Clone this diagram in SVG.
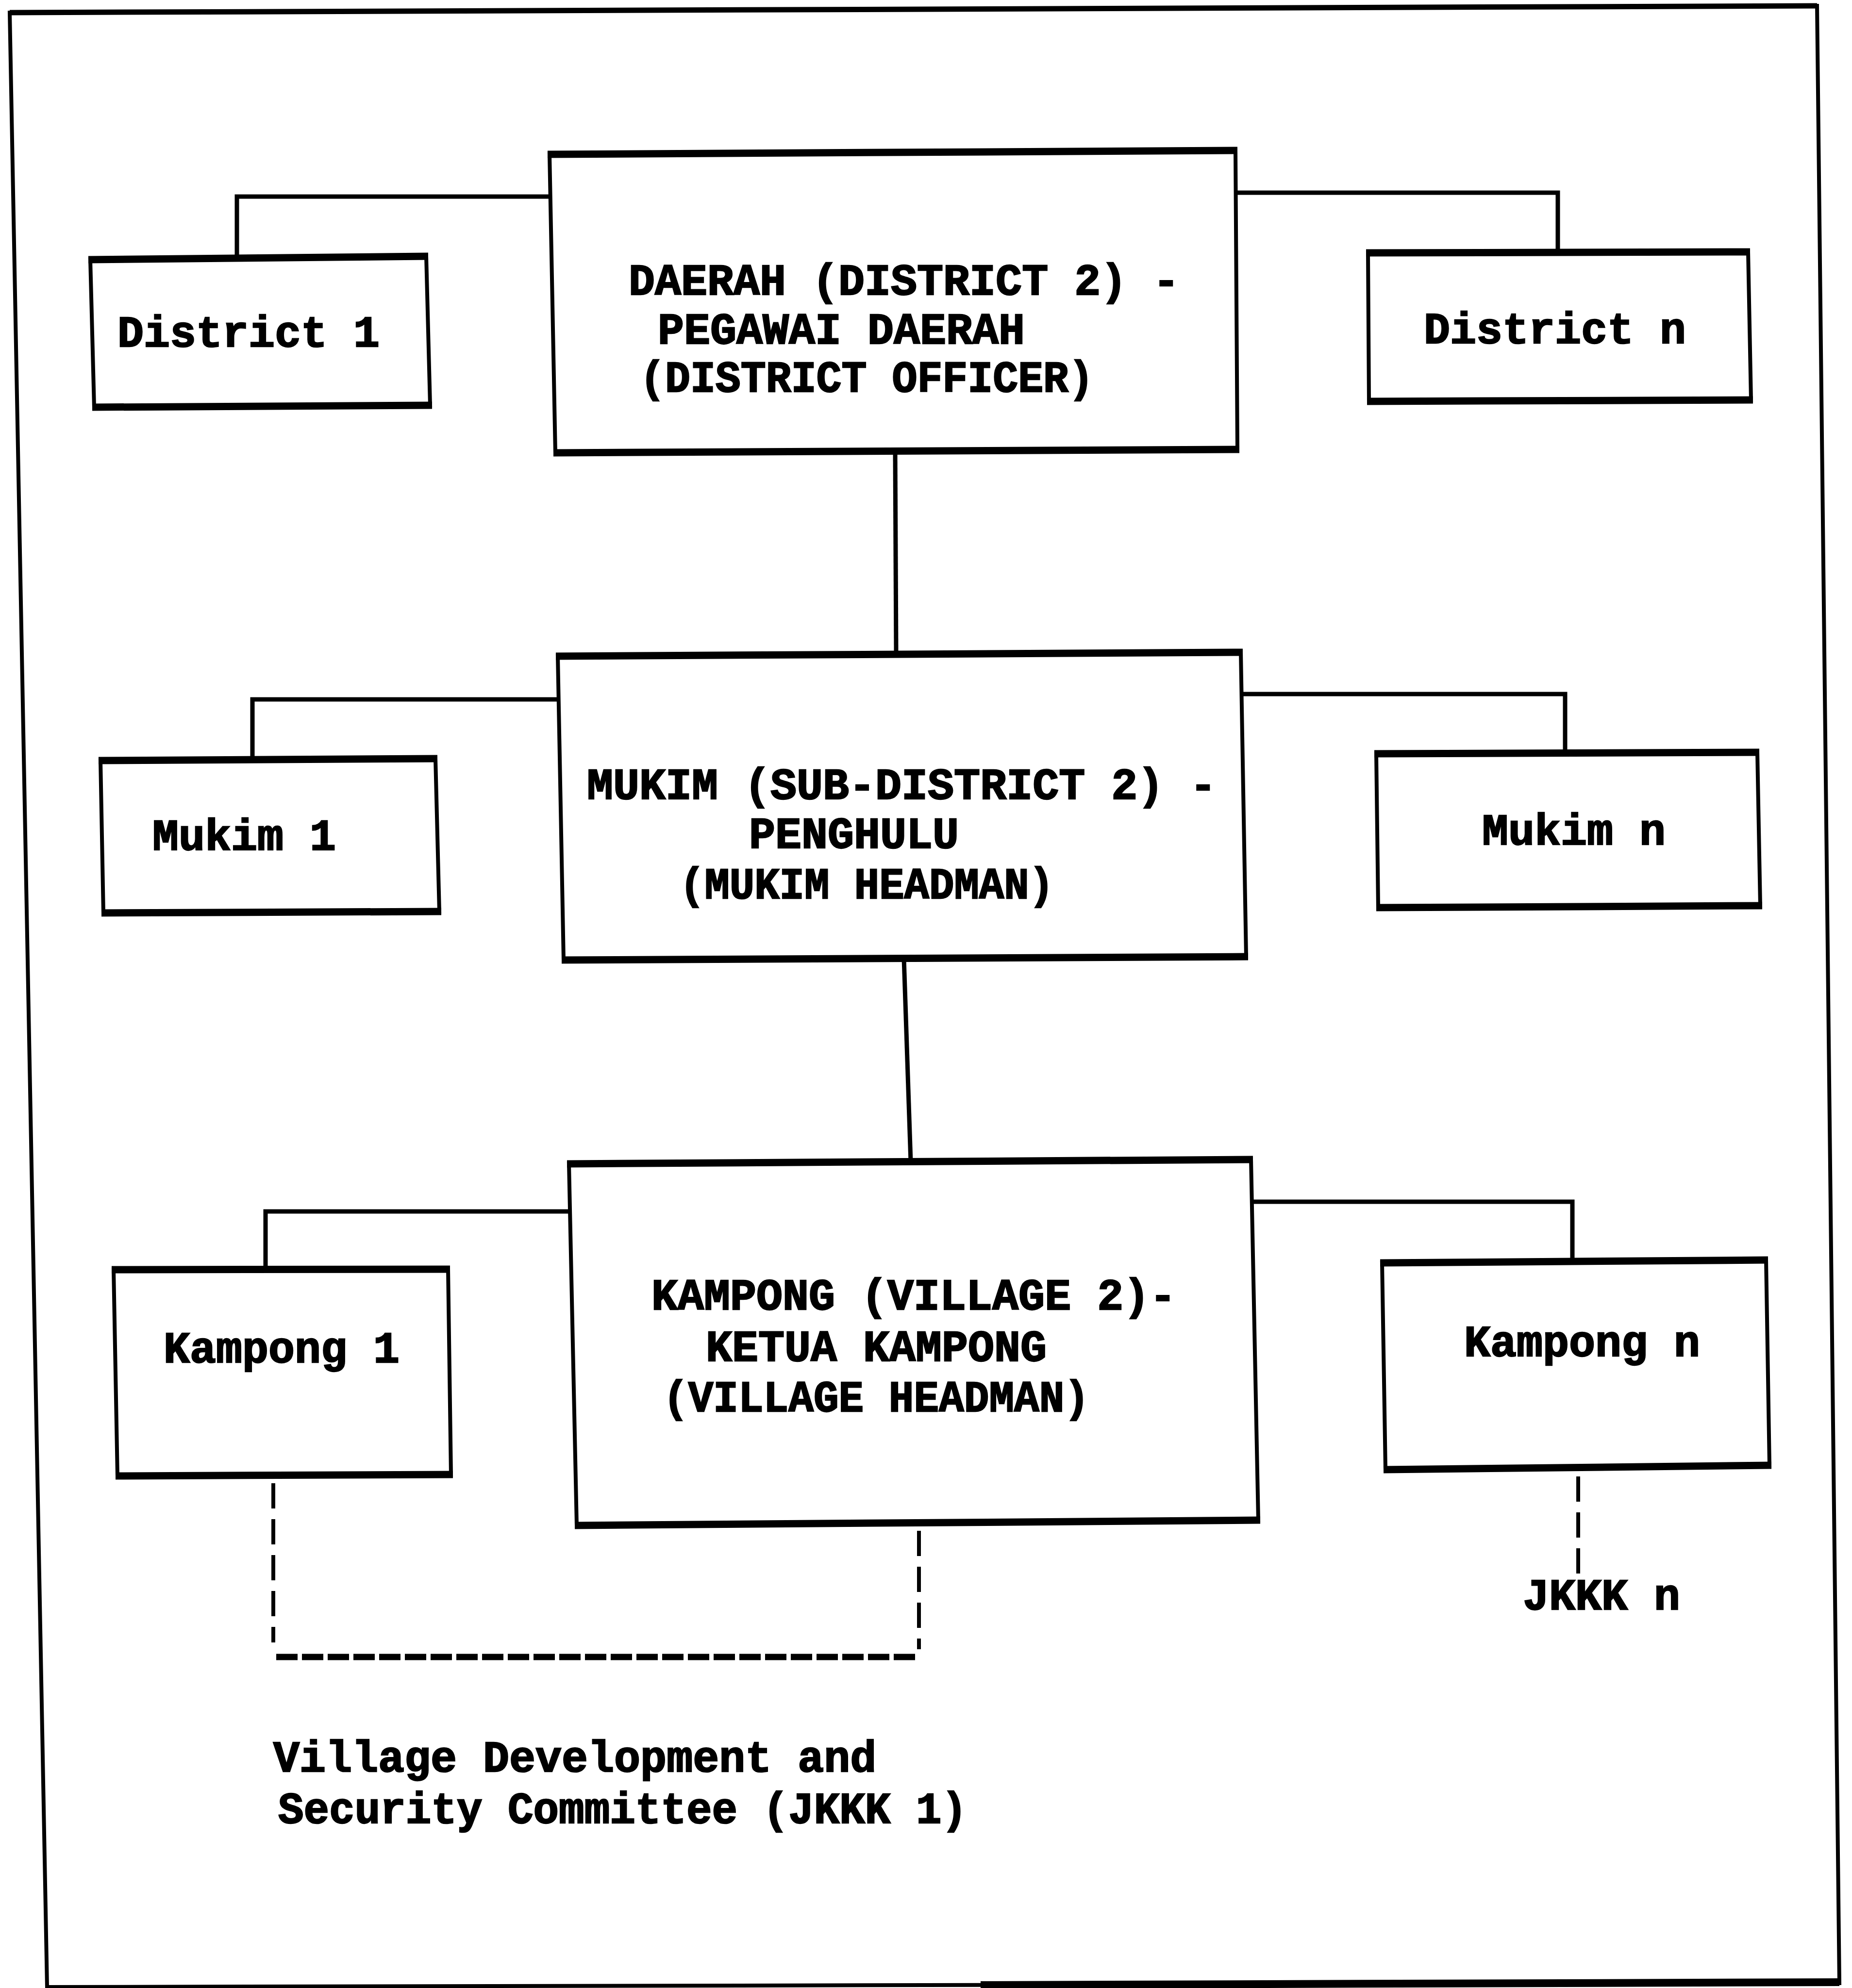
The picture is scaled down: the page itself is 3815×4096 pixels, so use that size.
<svg xmlns="http://www.w3.org/2000/svg" width="3815" height="4096" viewBox="0 0 3815 4096">
<style>
.box{fill:#fff;stroke:#000;stroke-width:8;stroke-linejoin:miter}
.edge{fill:none;stroke:#000;stroke-width:15}
.con{fill:none;stroke:#000;stroke-width:9}
.dash{fill:none;stroke:#000;stroke-width:8;stroke-dasharray:52 22}
.dot{fill:none;stroke:#000;stroke-width:13;stroke-dasharray:44 9}
.frame{fill:none;stroke:#000;stroke-width:8}
.t{font-family:"Liberation Mono","Courier New",monospace;font-weight:bold;font-size:90px;fill:#000;stroke:#000;stroke-width:2.5}
</style>
<rect width="3815" height="4096" fill="#fff"/>
<g id="frame">
<polygon class="frame" points="20,26 3743,12 3789,4086 97,4094"/>
<path class="frame" style="stroke-width:11" d="M20,26 L3743,12"/>
<path class="frame" style="stroke-width:16" d="M2020,4090 L3789,4084"/>
</g>
<g id="connectors">
<path class="con" d="M488,531 V405 H1132"/>
<path class="con" d="M2545,397 H3209 V520"/>
<path class="con" d="M1844,930 L1846,1348"/>
<path class="con" d="M520,1565 V1441 H1149"/>
<path class="con" d="M2556,1430 H3224 V1551"/>
<path class="con" d="M1862,1975 L1876,2393"/>
<path class="con" d="M547,2616 V2496 H1172"/>
<path class="con" d="M2577,2476 H3239 V2600"/>
<path class="dash" d="M563,3056 V3384"/>
<path class="dash" d="M1893,3154 V3398"/>
<path class="dot" d="M569,3414 H1889"/>
<path class="dash" d="M3251,3042 V3242"/>
</g>
<g id="node-daerah">
<polygon class="box" points="1132,318 2545,310 2549,926 1144,933"/>
<path class="edge" d="M1128,318 L2549,310 M1140,933 L2553,926"/>
<text class="t" x="1295" y="607">DAERAH (DISTRICT 2) -</text>
<text class="t" x="1355" y="708">PEGAWAI DAERAH</text>
<text class="t" x="1318" y="807" textLength="935" lengthAdjust="spacingAndGlyphs">(DISTRICT OFFICER)</text>
</g>
<g id="node-district-1">
<polygon class="box" points="186,535 878,528 886,835 194,839"/>
<path class="edge" d="M182,535 L882,528 M190,839 L890,835"/>
<text class="t" x="242" y="714">District 1</text>
</g>
<g id="node-district-n">
<polygon class="box" points="2818,521 3601,519 3607,824 2820,827"/>
<path class="edge" d="M2814,521 L3605,519 M2816,827 L3611,824"/>
<text class="t" x="2933" y="707">District n</text>
</g>
<g id="node-mukim">
<polygon class="box" points="1149,1352 2556,1344 2567,1971 1161,1978"/>
<path class="edge" d="M1145,1352 L2560,1344 M1157,1978 L2571,1971"/>
<text class="t" x="1209" y="1646">MUKIM (SUB-DISTRICT 2) -</text>
<text class="t" x="1543" y="1747">PENGHULU</text>
<text class="t" x="1400" y="1851" textLength="771" lengthAdjust="spacingAndGlyphs">(MUKIM HEADMAN)</text>
</g>
<g id="node-mukim-1">
<polygon class="box" points="207,1567 897,1563 905,1878 213,1881"/>
<path class="edge" d="M203,1567 L901,1563 M209,1881 L909,1878"/>
<text class="t" x="314" y="1751">Mukim 1</text>
</g>
<g id="node-mukim-n">
<polygon class="box" points="2835,1553 3620,1550 3626,1866 2839,1870"/>
<path class="edge" d="M2831,1553 L3624,1550 M2835,1870 L3630,1866"/>
<text class="t" x="3053" y="1740">Mukim n</text>
</g>
<g id="node-kampong">
<polygon class="box" points="1172,2398 2577,2389 2592,3132 1188,3143"/>
<path class="edge" d="M1168,2398 L2581,2389 M1184,3143 L2596,3132"/>
<text class="t" x="1342" y="2698">KAMPONG (VILLAGE 2)-</text>
<text class="t" x="1454" y="2804">KETUA KAMPONG</text>
<text class="t" x="1366" y="2908" textLength="878" lengthAdjust="spacingAndGlyphs">(VILLAGE HEADMAN)</text>
</g>
<g id="node-kampong-1">
<polygon class="box" points="234,2616 923,2615 929,3038 242,3041"/>
<path class="edge" d="M230,2616 L927,2615 M238,3041 L933,3038"/>
<text class="t" x="337" y="2807">Kampong 1</text>
</g>
<g id="node-kampong-n">
<polygon class="box" points="2847,2602 3638,2596 3645,3019 2854,3028"/>
<path class="edge" d="M2843,2602 L3642,2596 M2850,3028 L3649,3019"/>
<text class="t" x="3016" y="2794">Kampong n</text>
</g>
<g id="node-jkkk-n">
<text class="t" x="3137" y="3316">JKKK n</text>
</g>
<g id="node-jkkk-1">
<text class="t" x="563" y="3650">Village Development and</text>
<text class="t" x="573" y="3756" textLength="1419" lengthAdjust="spacingAndGlyphs">Security Committee (JKKK 1)</text>
</g>
</svg>
